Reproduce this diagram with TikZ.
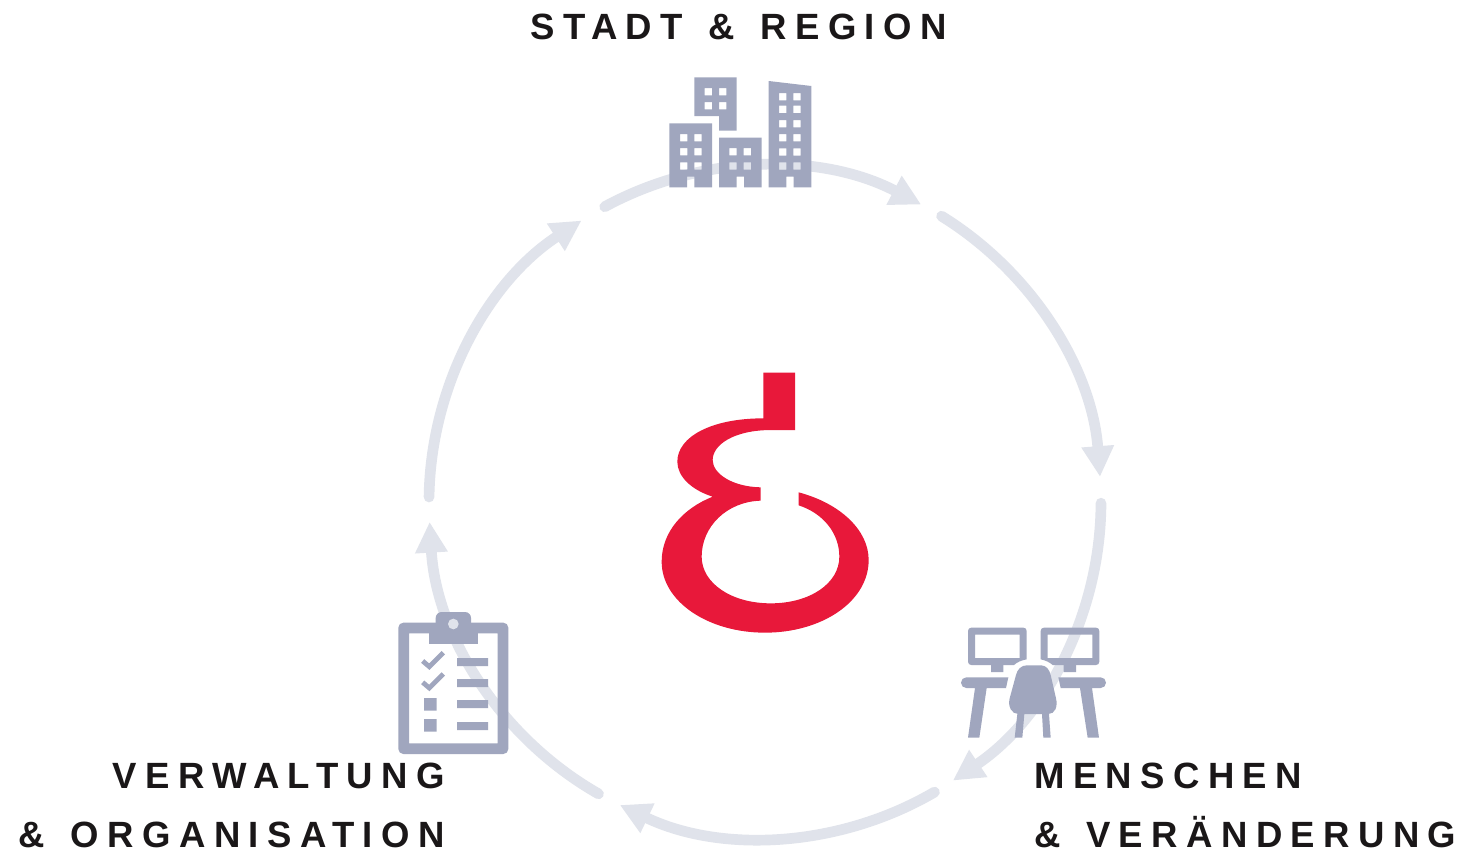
\documentclass[tikz,border=0pt]{standalone}
\usepackage{fontspec}
\usetikzlibrary{arrows.meta}
\newfontfamily\labelfont[LetterSpace=23,WordSpace=1.38]{Liberation Sans}
\definecolor{ringgrey}{HTML}{E0E3EB}
\definecolor{iconblue}{HTML}{A0A6BE}
\definecolor{logored}{HTML}{E8183A}
\definecolor{labelink}{HTML}{1A1718}
\tikzset{
  ring/.style={draw=ringgrey,line width=8pt,line cap=round,-{Triangle[length=23pt,width=23pt]}},
  icon/.style={fill=iconblue,draw=none,even odd rule},
  check/.style={draw=iconblue,line width=3.6pt},
  caption/.style={font=\fontsize{27.4}{44.25}\selectfont\bfseries\labelfont,text=labelink,inner sep=0pt},
  zoomed/.style={x=0.25pt,y=-0.25pt}
}
\newcommand{\win}[2]{(#1,#2) rectangle ++(22,22)}
\begin{document}
\begin{tikzpicture}[x=0.75pt,y=-0.75pt]
\useasboundingbox (0,0) rectangle (1465,851);
\fill[white] (0,0) rectangle (1465,851);
\coordinate (hub) at (765,502);
% ring arcs
\foreach \n/\a/\b in {1/-118.5/-62.3,2/-58.3/-4.3,3/0.2/56,4/59.7/115.6,5/119.7/176.6,6/180.85/236.9}{
  \path (hub) ++(\a:336) coordinate (s\n);
  \draw[ring] (s\n) arc[start angle=\a,end angle=\b,radius=336];
}
% logo
\begin{scope}[shift={(640,360)},zoomed]
\fill[logored] (370,38) -- (465,38) -- (465,210) -- (395,210)
 .. controls (280,210) and (218,255) .. (218,300)
 .. controls (218,340) and (275,380) .. (362,382)
 -- (362,422)
 .. controls (260,425) and (185,500) .. (185,590)
 .. controls (185,670) and (275,730) .. (392,730)
 .. controls (510,730) and (598,670) .. (598,590)
 .. controls (598,520) and (550,460) .. (476,436)
 -- (476,397)
 .. controls (600,430) and (686,510) .. (686,600)
 .. controls (686,725) and (545,818) .. (375,818)
 .. controls (205,818) and (65,725) .. (65,605)
 .. controls (65,515) and (130,445) .. (218,410)
 .. controls (155,390) and (112,350) .. (112,305)
 .. controls (112,230) and (215,175) .. (370,175) -- cycle;
\end{scope}
% buildings
\begin{scope}[shift={(640,60)},zoomed]
\fill[icon] (163,52) -- (290,52) -- (290,212) -- (237,212) -- (237,168) -- (163,168) -- cycle
  \win{194}{84} \win{237}{84} \win{194}{126} \win{237}{126};
\fill[icon] (88,190) -- (216,190) -- (216,382) -- (163,382) -- (163,350) -- (141,350) -- (141,382) -- (88,382) -- cycle
  \win{120}{222} \win{163}{222} \win{120}{264} \win{163}{264} \win{120}{307} \win{163}{307};
\fill[icon] (237,233) -- (365,233) -- (365,382) -- (312,382) -- (312,350) -- (290,350) -- (290,382) -- (237,382) -- cycle
  \win{268}{264} \win{311}{264} \win{268}{307} \win{311}{307};
\fill[icon] (386,63) -- (514,78) -- (514,382) -- (461,382) -- (461,350) -- (439,350) -- (439,382) -- (386,382) -- cycle
  \win{417}{99} \win{460}{99} \win{417}{137} \win{460}{137} \win{417}{180} \win{460}{180}
  \win{417}{222} \win{460}{222} \win{417}{265} \win{460}{265} \win{417}{307} \win{460}{307};
\end{scope}
% clipboard
\begin{scope}[shift={(380,600)},zoomed]
\fill[icon] [rounded corners=3.75pt] (55,68) rectangle (385,462) [sharp corners] (87,100) rectangle (353,430);
\fill[icon] (146,100) rectangle (295,131);
\fill[icon] (167,69) -- (167,54) .. controls (167,44) and (175,36) .. (185,36) -- (255,36)
  .. controls (265,36) and (273,44) .. (273,54) -- (273,69) -- cycle;
\fill[ringgrey] (220,72) circle[radius=16];
\draw[check] (128,183) -- (148,200) -- (190,158);
\draw[check] (128,247) -- (148,264) -- (190,222);
\fill[iconblue] (231,174) rectangle (324,198) (231,237) rectangle (324,261)
  (231,300) rectangle (324,324) (231,366) rectangle (324,390)
  (132,294) rectangle (170,332) (132,357) rectangle (170,395);
\end{scope}
% desks
\begin{scope}[shift={(930,600)},zoomed]
\fill[icon] (124,83) -- (280,83) .. controls (286,83) and (290,87) .. (290,93) -- (290,178)
  .. controls (274,181) and (262,186) .. (252,195) -- (124,195)
  .. controls (118,195) and (114,191) .. (114,185) -- (114,93) .. controls (114,87) and (118,83) .. (124,83) -- cycle
  (135,104) rectangle (269,174);
\fill[icon] (342,83) -- (498,83) .. controls (504,83) and (508,87) .. (508,93) -- (508,185)
  .. controls (508,191) and (504,195) .. (498,195) -- (368,195)
  .. controls (358,186) and (346,181) .. (332,178) -- (332,93) .. controls (332,87) and (336,83) .. (342,83) -- cycle
  (353,104) rectangle (487,174);
\fill[iconblue] (183,195) rectangle (220,216) (401,195) rectangle (438,216);
\fill[iconblue] (109,232) -- (235,232) -- (228,264) -- (170,264) -- (148,413) -- (114,413) -- (135,264) -- (109,264)
  .. controls (100,264) and (93,257) .. (93,248) .. controls (93,239) and (100,232) .. (109,232) -- cycle;
\fill[iconblue] (512,232) -- (385,232) -- (392,264) -- (450,264) -- (473,413) -- (507,413) -- (486,264) -- (512,264)
  .. controls (521,264) and (528,257) .. (528,248) .. controls (528,239) and (521,232) .. (512,232) -- cycle;
\fill[iconblue] (290,196) -- (333,196) .. controls (348,196) and (358,208) .. (362,225)
  -- (378,295) .. controls (384,320) and (375,342) .. (355,342) -- (265,342)
  .. controls (245,342) and (233,320) .. (239,295) -- (258,225)
  .. controls (262,208) and (274,196) .. (290,196) -- cycle;
\fill[iconblue] (262,342) -- (283,342) -- (277,413) -- (254,413) -- cycle
  (336,342) -- (357,342) -- (362,413) -- (340,413) -- cycle;
\end{scope}
% labels
\node[caption,anchor=base west] (stadt) at (530,39) {STADT \& REGION};
\node[caption,anchor=south east,align=right] (verwaltung) at (445,848) {VERWALTUNG\\\& ORGANISATION};
\node[caption,anchor=south west,align=left] (menschen) at (1034,848) {MENSCHEN\\\& VERÄNDERUNG};
\end{tikzpicture}
\end{document}
